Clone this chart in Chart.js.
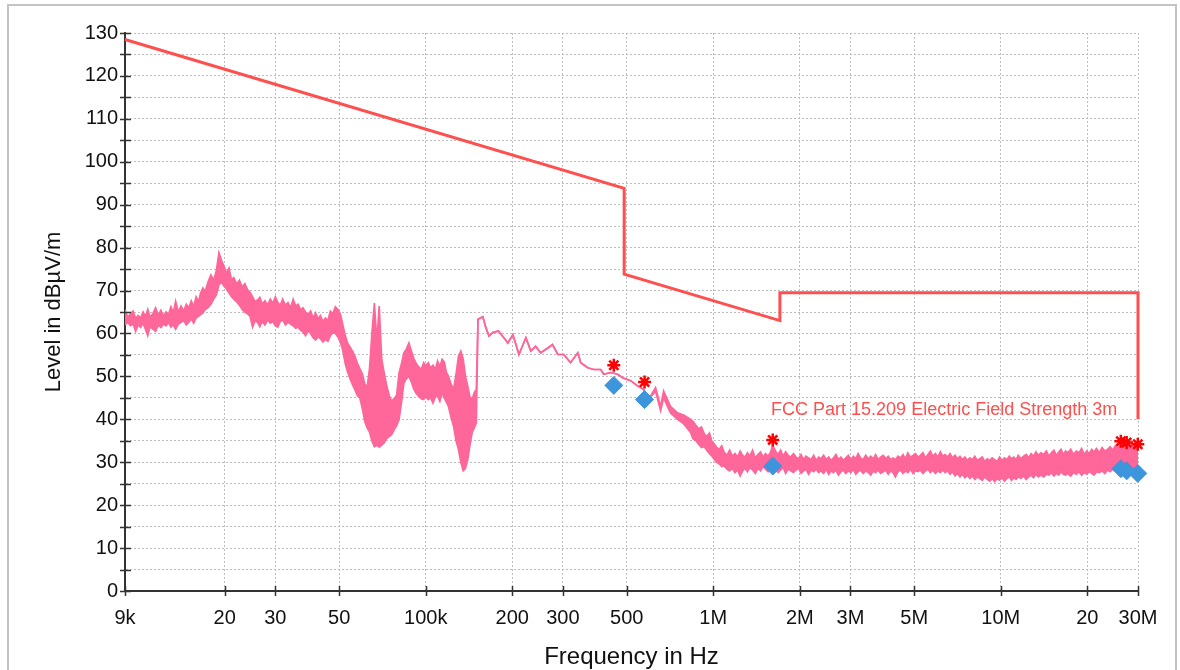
<!DOCTYPE html>
<html>
<head>
<meta charset="utf-8">
<title>Radiated emission scan 9 kHz - 30 MHz</title>
<script src="https://cdn.jsdelivr.net/npm/chart.js@4/dist/chart.umd.min.js"></script>
<style>
  html, body { margin: 0; padding: 0; background: #fff; }
  #wrap { position: relative; width: 1180px; height: 670px; }
</style>
</head>
<body>
<div id="wrap"><canvas id="scan" width="1180" height="670"></canvas></div>
<script>
// ---- axis ticks ----
const xTickValues = [9e3, 2e4, 3e4, 5e4, 1e5, 2e5, 3e5, 5e5, 1e6, 2e6, 3e6, 5e6, 1e7, 2e7, 3e7];
const xTickLabels = ['9k', '20', '30', '50', '100k', '200', '300', '500', '1M', '2M', '3M', '5M', '10M', '20', '30M'];

// ---- limit line: FCC Part 15.209, 3 m (Hz, dBµV/m) ----
const limitFreqHz = [9000, 490000, 490000, 1705000, 1705000, 30000000, 30000000];
const limitLevel  = [128.5, 93.8, 73.8, 63.0, 69.5, 69.5, 40.0];
const limitLabel  = 'FCC Part 15.209 Electric Field Strength 3m';

// ---- preview scan 9 kHz - 150 kHz (kHz; upper / lower edge of the noise band) ----
const lowFreqKHz = [
  9.0, 9.2, 9.4, 9.6, 9.8, 10.0, 10.2, 10.4, 10.6, 10.8,
  11.0, 11.25, 11.5, 11.75, 12.0, 12.25, 12.5, 12.75, 13.0, 13.25,
  13.5, 13.8, 14.1, 14.4, 14.7, 15.0, 15.3, 15.6, 15.9, 16.2,
  16.5, 16.8, 17.1, 17.5, 17.9, 18.3, 18.7, 19.1, 19.5, 19.9,
  20.3, 20.7, 21.1, 21.5, 22.0, 22.5, 23.0, 23.5, 24.0, 24.5,
  25.0, 25.5, 26.0, 26.5, 27.0, 27.6, 28.2, 28.8, 29.4, 30.0,
  30.6, 31.2, 31.8, 32.5, 33.2, 33.9, 34.6, 35.3, 36.0, 36.7,
  37.4, 38.2, 39.0, 39.8, 40.6, 41.4, 42.2, 43.0, 43.9, 44.8,
  45.7, 46.6, 47.5, 48.5, 49.5, 50.5, 51.5, 52.5, 53.5, 54.6,
  55.7, 56.8, 57.9, 59.0, 60.2, 61.4, 62.6, 63.8, 65.0, 66.3,
  67.6, 68.9, 70.3, 71.7, 73.1, 74.6, 76.1, 77.6, 79.2, 80.8,
  82.4, 84.0, 85.7, 87.4, 89.1, 90.9, 92.7, 94.6, 96.5, 98.4,
  100, 102, 104, 106, 108, 110, 112, 114, 116, 118,
  120, 122.5, 125, 127.5, 130, 132.5, 135, 137.5, 140, 142.5,
  145, 147.5, 150
];
const lowUpper = [
  65.5, 63.8, 64.6, 65.2, 63.5, 64.2, 63.6, 65.0, 64.0, 65.6,
  63.8, 64.6, 66.0, 64.2, 65.4, 64.0, 65.0, 64.4, 66.2, 64.8,
  67.5, 65.0, 66.4, 65.2, 66.8, 66.0, 67.6, 66.2, 68.5, 67.4,
  69.5, 70.6, 69.8, 72.0, 73.6, 72.4, 74.6, 78.8, 77.0, 75.6,
  74.0, 75.2, 72.6, 73.0, 71.5, 72.4, 70.8, 71.6, 70.2, 69.6,
  68.5, 67.4, 67.8, 68.4, 66.8, 67.6, 66.6, 68.0, 67.0, 68.5,
  67.2, 66.5, 68.0, 66.6, 67.2, 66.0, 68.0, 66.4, 66.8, 65.5,
  66.0, 65.0, 64.4, 65.2, 63.6, 64.8, 63.4, 64.2, 62.8, 63.6,
  63.0, 65.2, 64.6, 66.2, 65.6, 64.5, 62.0, 59.5, 57.8, 56.8,
  55.8, 54.6, 53.0, 51.8, 50.6, 48.2, 47.5, 52.0, 60.0, 67.1,
  58.0, 66.4, 54.0, 50.8, 48.0, 45.6, 44.2, 44.8, 45.6, 50.8,
  53.0, 55.5, 56.4, 57.8, 56.0, 54.2, 53.0, 52.2, 51.6, 53.2,
  52.4, 53.2, 52.0, 52.6, 51.6, 53.6, 52.2, 54.0, 53.4, 51.0,
  50.0, 48.2, 46.9, 50.5, 54.7, 55.9, 54.0, 50.0, 47.7, 45.2,
  44.6, 46.2, 47.0
];
const lowLower = [
  62.0, 62.6, 61.8, 62.2, 60.5, 62.0, 61.4, 62.4, 61.0, 59.5,
  61.6, 61.0, 60.5, 62.0, 61.4, 62.2, 61.8, 62.6, 61.5, 62.0,
  61.0, 62.2, 62.6, 63.0, 62.0, 62.6, 63.4, 62.4, 63.6, 64.0,
  64.4, 64.8, 65.6, 66.0, 66.8, 68.0, 69.0, 71.4, 72.0, 71.0,
  70.4, 69.4, 68.6, 68.0, 67.4, 66.6, 65.6, 65.0, 64.6, 64.0,
  61.5, 63.0, 62.6, 61.6, 62.8, 62.0, 63.2, 62.4, 62.8, 61.8,
  61.5, 62.8, 63.2, 62.0, 62.6, 62.2, 61.8, 61.2, 61.5, 60.8,
  60.4, 59.5, 60.6, 60.0, 59.0, 58.5, 59.2, 58.8, 58.0, 58.6,
  58.2, 59.5, 60.2, 60.0, 59.2, 58.0, 56.0, 53.0, 51.0, 49.4,
  48.0, 46.8, 45.5, 45.0, 42.5, 39.5, 38.0, 37.0, 35.0, 33.6,
  34.0, 33.5, 34.0, 34.5, 35.5, 36.0, 36.4, 37.5, 38.5, 40.0,
  44.0, 48.5, 49.5, 50.0, 48.8, 47.0, 46.0, 45.4, 44.8, 44.6,
  45.4, 44.6, 45.0, 43.8, 45.2, 45.4, 44.2, 46.2, 45.0, 44.0,
  43.0, 40.5, 38.4, 35.0, 33.0, 30.0, 28.0, 28.6, 30.6, 34.0,
  36.9, 38.0, 39.2
];

// ---- 150 kHz - 833 kHz, single trace ----
const midFreqKHz = [
  152, 158, 162, 166, 171, 179, 187, 193, 201,
  211, 223, 232, 241, 251, 266, 276, 288, 302,
  319, 338, 346, 366, 384, 406, 416, 440, 465, 484,
  516, 545, 572, 596, 630, 656, 672, 710, 751, 788, 833
];
const midUpper = [
  63.3, 63.9, 61.3, 59.4, 60.2, 60.6, 59, 57.8, 59.7,
  55.1, 59, 55.9, 57, 55.5, 56.6, 57.4, 55.1, 55.1,
  53.2, 55.5, 53.2, 52, 51.6, 51.6, 50.5, 50.9, 50.5, 49.7,
  49, 47.8, 47, 44.7, 47.4, 43, 46.6, 43, 41.5, 41, 40
];
const midLower = [
  63.3, 63.9, 61.3, 59.4, 60.2, 60.6, 59, 57.8, 59.7,
  55.1, 59, 55.9, 57, 55.5, 56.6, 57.4, 55.1, 55.1,
  53.2, 55.5, 53.2, 52, 51.6, 51.6, 50.5, 50.9, 50.5, 49.7,
  49, 47.8, 47, 44.7, 46.5, 42, 45, 41.5, 40, 39, 37
];

// ---- 850 kHz - 30 MHz (kHz; upper / lower edge of the noise band) ----
const highFreqKHz = [
  850, 870, 890, 910, 930, 950, 970, 990, 1010, 1030,
  1050, 1070, 1090, 1115, 1140, 1165, 1190, 1215, 1240, 1265,
  1290, 1315, 1340, 1370, 1400, 1430, 1460, 1490, 1520, 1550,
  1580, 1610, 1645, 1680, 1715, 1750, 1785, 1820, 1860, 1900,
  1940, 1980, 2020, 2060, 2100, 2145, 2190, 2235, 2280, 2325,
  2370, 2420, 2470, 2520, 2570, 2620, 2670, 2725, 2780, 2835,
  2890, 2950, 3010, 3070, 3130, 3190, 3250, 3320, 3390, 3460,
  3530, 3600, 3670, 3740, 3820, 3900, 3980, 4060, 4140, 4220,
  4300, 4390, 4480, 4570, 4660, 4750, 4850, 4950, 5050, 5150,
  5250, 5360, 5470, 5580, 5690, 5800, 5920, 6040, 6160, 6280,
  6400, 6530, 6660, 6790, 6930, 7070, 7210, 7350, 7500, 7650,
  7800, 7960, 8120, 8280, 8450, 8620, 8790, 8970, 9150, 9330,
  9520, 9710, 9900, 10100, 10300, 10500, 10700, 10900, 11100, 11300,
  11500, 11750, 12000, 12250, 12500, 12750, 13000, 13250, 13500, 13800,
  14100, 14400, 14700, 15000, 15300, 15600, 15900, 16200, 16500, 16800,
  17100, 17500, 17900, 18300, 18700, 19100, 19500, 19900, 20300, 20700,
  21100, 21500, 22000, 22500, 23000, 23500, 24000, 24500, 25000, 25500,
  26000, 26500, 27000, 27500, 28000, 28500, 29000, 29500, 30000
];
const highUpper = [
  39.5, 38.6, 37.8, 38.2, 36.6, 36.0, 36.8, 34.8, 34.2, 33.4,
  33.0, 33.8, 32.4, 31.6, 32.8, 31.4, 32.0, 31.2, 32.6, 31.6,
  31.2, 32.2, 31.4, 32.8, 31.0, 31.8, 32.4, 31.2, 32.0, 31.4,
  32.2, 34.0, 32.6, 31.8, 32.8, 31.4, 32.4, 31.6, 31.2, 32.0,
  31.2, 30.8, 31.8, 30.6, 31.4, 31.0, 30.6, 31.6, 30.4, 31.2,
  30.8, 31.6, 30.6, 31.2, 30.4, 31.0, 31.8, 30.6, 31.2, 30.4,
  31.0, 31.6, 30.6, 31.4, 30.8, 32.0, 31.0, 30.6, 31.6, 30.8,
  31.4, 30.8, 31.8, 30.6, 31.2, 31.6, 30.8, 31.4, 30.6, 31.0,
  30.6, 31.4, 31.0, 31.8, 30.8, 32.2, 31.2, 31.6, 32.0, 31.2,
  31.6, 32.2, 31.0, 31.8, 32.6, 31.4, 32.0, 31.2, 32.4, 31.4,
  31.8, 31.2, 32.0, 31.0, 31.6, 30.8, 31.4, 30.6, 31.2, 30.4,
  31.0, 30.6, 31.4, 30.4, 30.8, 31.2, 30.2, 30.8, 30.4, 31.0,
  30.6, 30.2, 31.2, 30.4, 31.0, 30.6, 31.4, 30.8, 31.2, 30.6,
  31.6, 30.8, 31.4, 31.8, 31.0, 32.0, 31.4, 32.4, 31.6, 32.2,
  31.8, 32.6, 31.4, 32.2, 32.8, 31.6, 32.4, 33.0, 31.8, 32.6,
  32.2, 33.0, 31.8, 32.6, 32.2, 33.2, 31.8, 32.6, 32.0, 33.0,
  32.4, 33.2, 32.2, 33.4, 32.6, 33.0, 33.6, 32.8, 33.8, 33.2,
  34.2, 33.6, 34.5, 33.8, 34.2, 33.6, 34.0, 33.2, 32.0
];
const highLower = [
  35.5, 35.0, 34.2, 33.4, 33.6, 32.8, 32.0, 31.4, 30.6, 30.0,
  29.6, 29.0, 29.2, 28.4, 28.0, 28.6, 27.6, 28.2, 26.8, 28.0,
  28.6, 27.8, 28.8, 28.2, 27.4, 28.6, 28.0, 29.0, 28.4, 27.8,
  28.8, 29.2, 28.4, 27.6, 28.2, 28.8, 27.4, 28.4, 28.0, 27.6,
  28.2, 28.6, 27.4, 28.0, 28.4, 27.2, 28.2, 27.8, 28.4, 27.6,
  28.0, 27.4, 28.4, 27.2, 28.0, 27.6, 28.2, 27.0, 27.8, 28.2,
  27.4, 28.0, 27.6, 28.4, 27.2, 27.8, 28.2, 27.4, 28.0, 27.6,
  27.0, 28.0, 27.6, 28.2, 27.4, 27.8, 28.2, 27.2, 28.0, 27.6,
  26.6, 27.8, 28.2, 27.4, 28.0, 27.6, 28.4, 27.4, 28.0, 27.8,
  28.2, 27.4, 28.0, 28.4, 27.6, 28.2, 27.4, 28.0, 27.6, 28.2,
  27.6, 28.0, 27.2, 27.8, 26.8, 27.4, 26.6, 27.2, 26.4, 27.0,
  26.2, 26.8, 26.0, 26.6, 26.2, 25.8, 26.6, 26.0, 25.6, 26.2,
  25.5, 26.2, 25.8, 26.4, 25.6, 26.2, 26.6, 25.8, 26.4, 26.0,
  26.6, 26.2, 26.8, 26.0, 26.6, 27.0, 26.4, 27.2, 26.6, 27.0,
  26.6, 27.2, 27.0, 27.6, 26.8, 27.4, 27.0, 27.8, 27.2, 27.0,
  27.4, 26.8, 27.6, 27.2, 27.8, 27.0, 27.6, 27.2, 27.8, 27.4,
  27.0, 27.8, 27.6, 28.0, 27.4, 28.2, 27.8, 28.4, 28.0, 28.6,
  28.2, 28.8, 28.4, 29.0, 28.6, 28.8, 28.4, 29.2, 29.0
];

// ---- final measurement markers (Hz, dBµV/m) ----
const markerFreqHz = [451000, 577000, 1610000, 26150000, 27400000, 29950000];
const peakLevel    = [52.6, 48.7, 35.2, 34.9, 34.6, 34.2];
const finalLevel   = [47.9, 44.6, 29.1, 28.5, 28.0, 27.4];

// ---- build point lists ----
const scanFreqKHz = [...lowFreqKHz, ...midFreqKHz, ...highFreqKHz];
const scanUpper = [...lowUpper, ...midUpper, ...highUpper];
const scanLower = [...lowLower, ...midLower, ...highLower];
const kHzPts = (fk, ys) => fk.map((f, i) => ({ x: f * 1000, y: ys[i] }));
const hzPts = (fh, ys) => fh.map((f, i) => ({ x: f, y: ys[i] }));

const FONT = "'Liberation Sans', Arial, Helvetica, sans-serif";
const TRACE = '#ff6699';
const LIMIT = '#ff4f4f';
const AXIS = '#333333';
const GRID = '#bdbdbd';

// tick marks that cross the axis lines
const axisTicks = {
  id: 'axisTicks',
  afterDraw(chart) {
    const { ctx, chartArea: a, scales: { x, y } } = chart;
    ctx.save();
    ctx.strokeStyle = AXIS;
    ctx.lineWidth = 1.5;
    ctx.beginPath();
    y.ticks.forEach(t => {
      const py = Math.round(y.getPixelForValue(t.value)) + 0.5;
      ctx.moveTo(a.left - 5, py);
      ctx.lineTo(a.left + 6, py);
    });
    x.ticks.forEach(t => {
      const px = Math.round(x.getPixelForValue(t.value)) + 0.5;
      ctx.moveTo(px, a.bottom - 5);
      ctx.lineTo(px, a.bottom + 5);
    });
    ctx.stroke();
    ctx.restore();
  }
};

// limit line caption
const limitCaption = {
  id: 'limitCaption',
  afterDatasetsDraw(chart) {
    const { ctx, scales: { x, y } } = chart;
    ctx.save();
    ctx.font = '18px ' + FONT;
    ctx.fillStyle = LIMIT;
    ctx.textAlign = 'right';
    ctx.textBaseline = 'alphabetic';
    ctx.fillText(limitLabel, x.getPixelForValue(25.4e6), y.getPixelForValue(41));
    ctx.restore();
  }
};

// thin outer frame
const frame = {
  id: 'frame',
  beforeDraw(chart) {
    const { ctx } = chart;
    ctx.save();
    ctx.strokeStyle = '#c4c4c4';
    ctx.lineWidth = 2;
    ctx.beginPath();
    ctx.moveTo(8, 670);
    ctx.lineTo(8, 5);
    ctx.lineTo(1176, 5);
    ctx.lineTo(1176, 670);
    ctx.stroke();
    ctx.restore();
  }
};

new Chart(document.getElementById('scan'), {
  type: 'scatter',
  data: {
    datasets: [
      {
        label: 'Peak',
        data: hzPts(markerFreqHz, peakLevel),
        pointStyle: 'star',
        pointRadius: 6.5,
        pointBorderWidth: 2.5,
        borderColor: '#ff0000',
        backgroundColor: '#ff0000',
        showLine: false,
        clip: false
      },
      {
        label: 'Final',
        data: hzPts(markerFreqHz, finalLevel),
        pointStyle: 'rectRot',
        pointRadius: 9,
        pointBorderWidth: 1,
        borderColor: '#3d95dc',
        backgroundColor: '#3d95dc',
        showLine: false,
        clip: false
      },
      {
        label: limitLabel,
        data: hzPts(limitFreqHz, limitLevel),
        showLine: true,
        borderColor: LIMIT,
        borderWidth: 3,
        pointRadius: 0,
        fill: false,
        clip: false
      },
      {
        label: 'Preview upper',
        data: kHzPts(scanFreqKHz, scanUpper),
        showLine: true,
        borderColor: TRACE,
        backgroundColor: TRACE,
        borderWidth: 1.7,
        pointRadius: 0,
        fill: '+1'
      },
      {
        label: 'Preview lower',
        data: kHzPts(scanFreqKHz, scanLower),
        showLine: true,
        borderColor: TRACE,
        borderWidth: 1.7,
        pointRadius: 0,
        fill: false
      }
    ]
  },
  options: {
    responsive: false,
    animation: false,
    devicePixelRatio: 1,
    layout: { padding: { top: 33, right: 42, left: 0, bottom: 0 } },
    plugins: { legend: { display: false }, tooltip: { enabled: false } },
    elements: { line: { tension: 0 } },
    scales: {
      x: {
        type: 'logarithmic',
        min: 9000,
        max: 30000000,
        afterBuildTicks: s => { s.ticks = xTickValues.map(v => ({ value: v })); },
        afterFit: s => { s.height = 79; },
        ticks: {
          autoSkip: false, maxRotation: 0, minRotation: 0, padding: 15,
          color: '#111', font: { family: FONT, size: 20 },
          callback: (v, i) => xTickLabels[i]
        },
        grid: { color: GRID, lineWidth: 1, drawTicks: false },
        border: { display: true, color: AXIS, width: 2, dash: [2, 2] },
        title: {
          display: true, text: 'Frequency in Hz', color: '#111',
          font: { family: FONT, size: 24, lineHeight: 1 },
          padding: { top: 0, bottom: 1 }
        }
      },
      y: {
        min: 0,
        max: 130,
        afterFit: s => { s.width = 125; },
        ticks: {
          stepSize: 5, autoSkip: false, padding: 7,
          color: '#111', font: { family: FONT, size: 20 },
          callback: v => (v % 10 === 0 ? String(v) : '')
        },
        grid: { color: GRID, lineWidth: 1, drawTicks: false },
        border: { display: true, color: AXIS, width: 2, dash: [2, 2] },
        title: {
          display: true, text: 'Level in dBµV/m', color: '#111',
          font: { family: FONT, size: 22, lineHeight: 1 },
          padding: { top: 43, bottom: 0 }
        }
      }
    }
  },
  plugins: [frame, axisTicks, limitCaption]
});
</script>
</body>
</html>
